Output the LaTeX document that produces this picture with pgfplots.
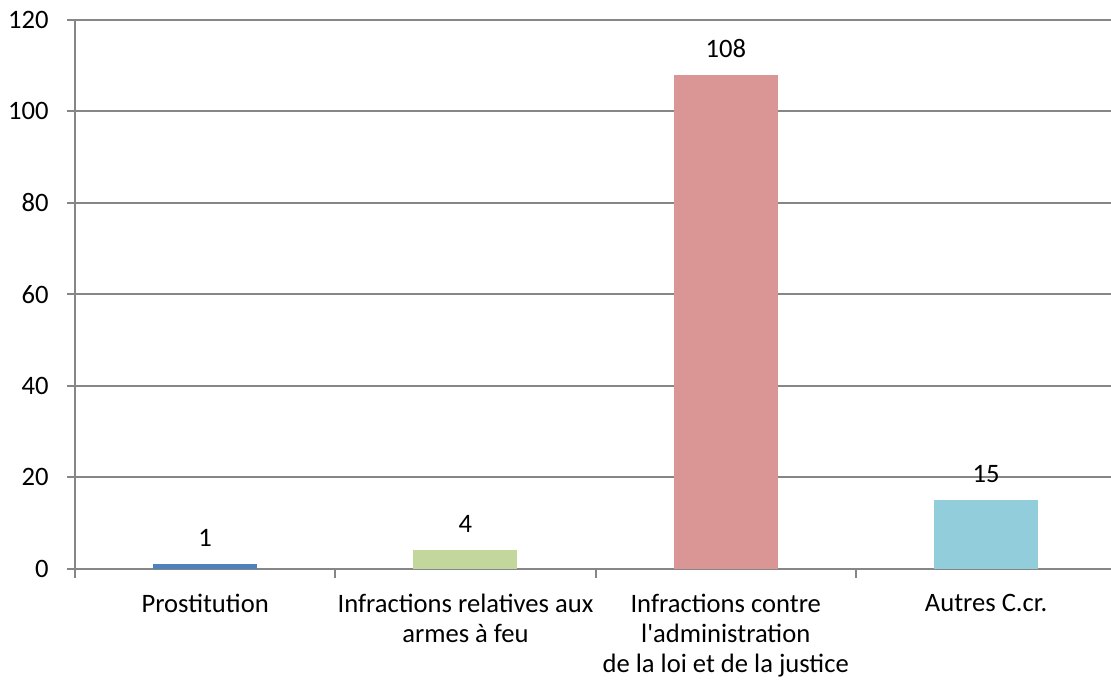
\documentclass[border=0pt]{standalone}
\usepackage{fontspec}
\setmainfont{Carlito}[Ligatures=TeXOff]
\usepackage{pgfplots}
\pgfplotsset{compat=1.18}

\definecolor{cblue}{HTML}{4F81BD}
\definecolor{cgreen}{HTML}{C3D69B}
\definecolor{cred}{HTML}{D99694}
\definecolor{cteal}{HTML}{92CDDC}
\definecolor{axgray}{HTML}{868686}

\begin{document}
\begin{tikzpicture}
\begin{axis}[
    name=ax,
    scale only axis,
    width=518pt, height=274.25pt,
    xmin=-0.5, xmax=3.48,
    ymin=0, ymax=120,
    ytick={0,20,...,120},
    ybar, bar width=52pt, bar shift=0pt,
    axis lines=left,
    axis line style={-, draw=axgray, line width=1pt},
    tick align=outside,
    ymajorgrids,
    grid style={axgray, line width=1pt},
    xtick={0,1,2,3},
    xticklabels={Prostitution,
        {Infractions relatives aux\\armes à feu},
        {Infractions contre\\l'administration\\de la loi et de la justice},
        Autres C.cr.},
    minor xtick={-0.5,0.5,1.5,2.5},
    major x tick style={draw=none},
    major tick length=4pt,
    minor tick length=4.5pt,
    tick style={axgray, line width=1pt},
    /pgf/number format/assume math mode=true,
    tick label style={font=\fontsize{13.3}{15}\selectfont, text=black},
    xticklabel style={align=center, yshift=-5.3pt},
    yticklabel style={xshift=-5.7pt},
    nodes near coords,
    every node near coord/.append style={font=\fontsize{13.3}{15}\selectfont, text=black, yshift=5.2pt},
]
\addplot[fill=cblue, draw=none] coordinates {(0,1)};
\addplot[fill=cgreen, draw=none] coordinates {(1,4)};
\addplot[fill=cred, draw=none] coordinates {(2,108)};
\addplot[fill=cteal, draw=none] coordinates {(3,15)};
\end{axis}
\pgfresetboundingbox
\path[use as bounding box] ([xshift=-37.5pt,yshift=-56.5pt]ax.south west) rectangle ([yshift=10pt]ax.north east);
\end{tikzpicture}
\end{document}
